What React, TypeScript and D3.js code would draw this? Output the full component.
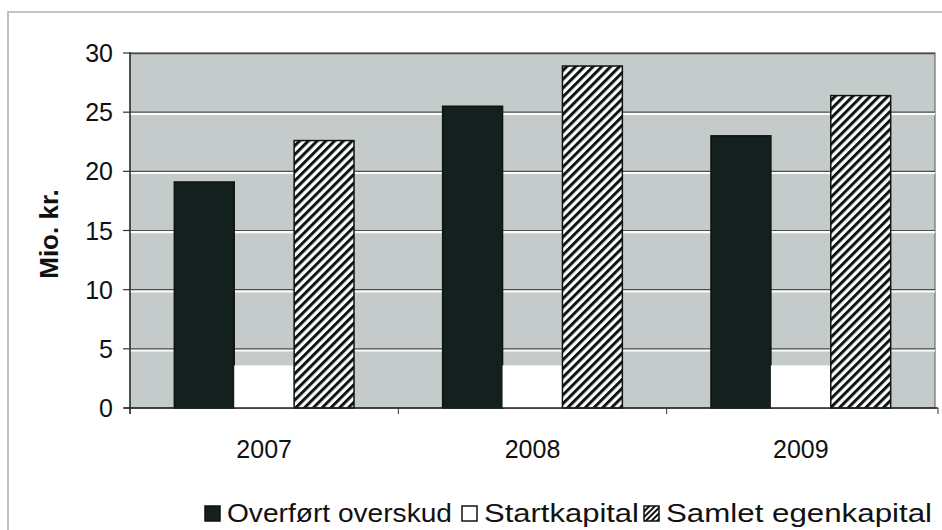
import React from "react";
import * as d3 from "d3";

const categories = ["2007", "2008", "2009"];
const seriesNames = ["Overført overskud", "Startkapital", "Samlet egenkapital"];
const overskud = [19.1, 25.5, 23.0];
const startkapital = [3.6, 3.6, 3.6];
const samlet = [22.6, 28.9, 26.4];
const yTicks = [0, 5, 10, 15, 20, 25, 30];

export default function App() {
  const W = 942, H = 530;
  const left = 130, right = 935, top = 53, bottom = 408;
  const x0 = d3.scaleBand<string>().domain(categories).range([left, right]).paddingInner(0).paddingOuter(0);
  const x1 = d3.scaleBand<string>().domain(seriesNames).range([0, x0.bandwidth()]).paddingOuter(0.74).paddingInner(0);
  const y = d3.scaleLinear().domain([0, 30]).range([bottom, top]);
  const series = [overskud, startkapital, samlet];
  const fills = ["#14201d", "#ffffff", "url(#hatch)"];
  const font = "Arial, 'Liberation Sans', sans-serif";

  const legendItems = [
    { x: 205, label: seriesNames[0], fill: fills[0], len: 225 },
    { x: 462, label: seriesNames[1], fill: fills[1], len: 155 },
    { x: 644, label: seriesNames[2], fill: fills[2], len: 266 },
  ];

  return (
    <svg width={W} height={H} style={{ position: "absolute", left: 0, top: 0, background: "#fff" }}>
      <defs>
        <pattern id="hatch" patternUnits="userSpaceOnUse" width="6.2" height="6.2" patternTransform="rotate(45)">
          <rect width="6.2" height="6.2" fill="#fff" />
          <rect x="0" y="0" width="3" height="6.2" fill="#0d1412" />
        </pattern>
        <pattern id="hatchS" patternUnits="userSpaceOnUse" width="4" height="4" patternTransform="rotate(45)">
          <rect width="4" height="4" fill="#fff" />
          <rect x="0" y="0" width="2" height="4" fill="#0d1412" />
        </pattern>
      </defs>
      {/* outer frame */}
      <rect x={8} y={12} width={W} height={H} fill="none" stroke="#b0b0b0" strokeWidth={1.5} />
      {/* plot background */}
      <rect x={left} y={top} width={right - left} height={bottom - top} fill="#c4cbca" stroke="#555" strokeWidth={1} />
      {/* gridlines */}
      {yTicks.slice(1, -1).map((t) => (
        <g key={t}>
          <line x1={left} x2={right} y1={y(t) + 1.5} y2={y(t) + 1.5} stroke="#fdfdfd" strokeWidth={2.5} />
          <line x1={left} x2={right} y1={y(t)} y2={y(t)} stroke="#4a4f4e" strokeWidth={1.2} />
        </g>
      ))}
      <line x1={left} x2={right} y1={top + 0.5} y2={top + 0.5} stroke="#4a4f4e" strokeWidth={1.5} />
      {/* bars */}
      {categories.map((c, i) => (
        <g key={c}>
          {series.map((s, j) => {
            const bx = (x0(c) as number) + (x1(seriesNames[j]) as number);
            const bw = x1.bandwidth();
            return (
              <rect
                key={j}
                x={bx}
                y={y(s[i])}
                width={bw}
                height={bottom - y(s[i])}
                fill={fills[j]}
                stroke={j === 1 ? "none" : "#0d1412"}
                strokeWidth={1.5}
              />
            );
          })}
        </g>
      ))}
      {/* axes */}
      <line x1={left} x2={left} y1={top - 1} y2={bottom + 6} stroke="#333" strokeWidth={1.5} />
      <line x1={left - 6} x2={right + 3} y1={bottom} y2={bottom} stroke="#222" strokeWidth={1.5} />
      {yTicks.map((t) => (
        <g key={t}>
          <line x1={left - 7} x2={left} y1={y(t)} y2={y(t)} stroke="#333" strokeWidth={1.2} />
          <text x={left - 17} y={y(t)} dy="0.36em" textAnchor="end" fontFamily={font} fontSize={25} fill="#111">
            {t}
          </text>
        </g>
      ))}
      {categories.map((c, i) => (
        <g key={c}>
          <line x1={(x0(c) as number)} x2={(x0(c) as number)} y1={bottom} y2={bottom + 6} stroke="#333" />
          <text x={(x0(c) as number) + x0.bandwidth() / 2} y={458} textAnchor="middle" fontFamily={font} fontSize={25} fill="#111">
            {c}
          </text>
        </g>
      ))}
      <line x1={right + 3} x2={right + 3} y1={bottom} y2={bottom + 6} stroke="#333" />
      {/* y label */}
      <text transform={`translate(58,234) rotate(-90)`} textAnchor="middle" fontFamily={font} fontSize={26} fontWeight="bold" fill="#111">
        Mio. kr.
      </text>
      {/* legend */}
      {legendItems.map((it) => (
        <g key={it.label}>
          <rect x={it.x} y={506} width={15} height={15} fill={it.fill === "url(#hatch)" ? "url(#hatchS)" : it.fill} stroke="#111" strokeWidth={1.5} />
          <text x={it.x + 22} y={522} fontFamily={font} fontSize={26} fill="#111" textLength={it.len} lengthAdjust="spacingAndGlyphs">
            {it.label}
          </text>
        </g>
      ))}
    </svg>
  );
}
